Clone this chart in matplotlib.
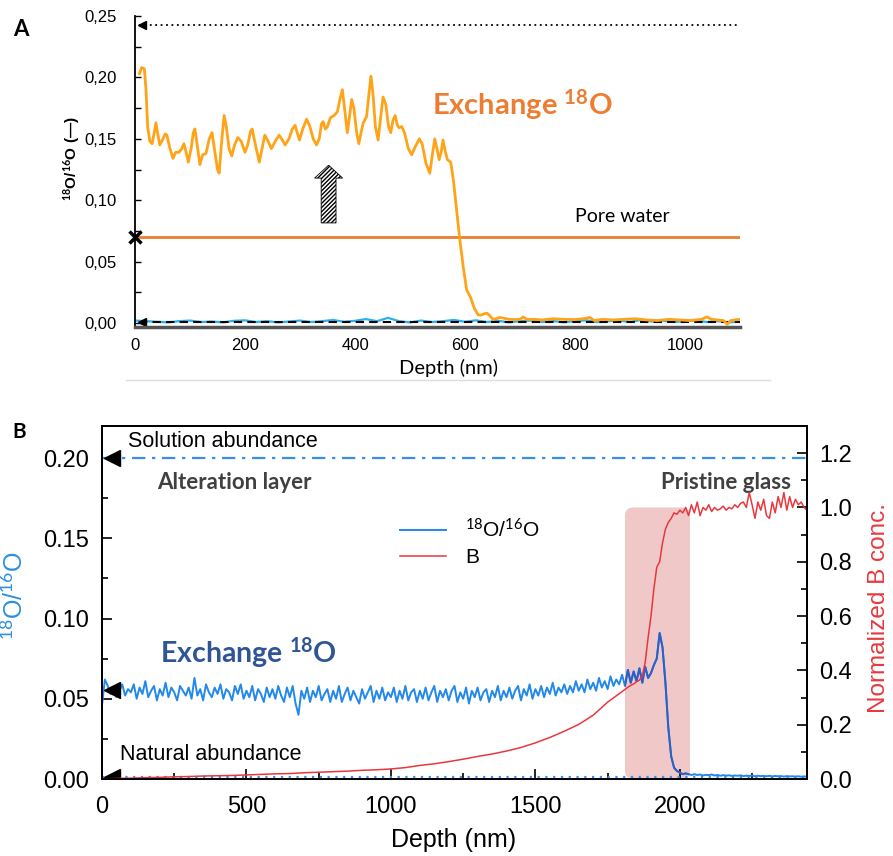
import numpy as np
import matplotlib.pyplot as plt
from matplotlib.patches import FancyArrow, FancyBboxPatch
from matplotlib.lines import Line2D
from matplotlib.ticker import MultipleLocator, FuncFormatter

plt.rcParams['mathtext.fontset'] = 'custom'
plt.rcParams['mathtext.rm'] = 'Lato'
plt.rcParams['mathtext.bf'] = 'Lato:bold'
plt.rcParams['mathtext.it'] = 'Lato:italic'

# ---------------- panel A data ----------------
orange_depth = [8, 12, 17, 20, 23, 27, 31, 35, 38, 41, 45, 50, 55, 58, 63, 69, 74, 80, 85, 89,
                93, 97, 102, 106, 109, 113, 118, 123, 129, 135, 140, 145, 150, 153, 157, 162,
                166, 171, 176, 181, 187, 193, 200, 205, 210, 213, 219, 226, 231, 236, 242, 248,
                255, 262, 268, 273, 280, 286, 291, 295, 299, 305, 312, 318, 324, 330, 335, 339,
                342, 346, 350, 355, 362, 368, 373, 377, 381, 386, 390, 394, 398, 403, 407, 411,
                415, 421, 425, 429, 433, 437, 442, 446, 451, 456, 461, 465, 469, 473, 477, 480,
                485, 490, 497, 503, 510, 517, 522, 529, 536, 540, 545, 549, 553, 557, 560, 564,
                568, 574, 579, 584, 590, 597, 603, 610, 617, 624, 629, 635, 640, 645, 651, 657,
                663, 670, 680, 690, 700, 706, 712, 725, 740, 760, 780, 800, 815, 827, 835, 850,
                870, 890, 910, 930, 950, 970, 990, 1010, 1030, 1040, 1048, 1060, 1070, 1077,
                1083, 1090, 1100]
orange_ratio = [0.203, 0.208, 0.207, 0.190, 0.160, 0.148, 0.146, 0.155, 0.163, 0.155, 0.145,
                0.149, 0.154, 0.153, 0.143, 0.134, 0.139, 0.139, 0.142, 0.146, 0.139, 0.131,
                0.142, 0.155, 0.158, 0.145, 0.129, 0.137, 0.138, 0.150, 0.155, 0.140, 0.125,
                0.122, 0.145, 0.169, 0.160, 0.142, 0.136, 0.145, 0.151, 0.148, 0.139, 0.145,
                0.156, 0.158, 0.145, 0.131, 0.142, 0.153, 0.148, 0.142, 0.148, 0.153, 0.149,
                0.145, 0.150, 0.158, 0.161, 0.155, 0.149, 0.158, 0.166, 0.160, 0.150, 0.145,
                0.150, 0.162, 0.164, 0.158, 0.160, 0.167, 0.169, 0.172, 0.183, 0.190, 0.175,
                0.155, 0.168, 0.182, 0.175, 0.155, 0.146, 0.155, 0.163, 0.168, 0.185, 0.201,
                0.185, 0.160, 0.149, 0.165, 0.184, 0.178, 0.160, 0.155, 0.165, 0.169, 0.161,
                0.159, 0.160, 0.155, 0.142, 0.137, 0.144, 0.150, 0.146, 0.130, 0.122, 0.135,
                0.150, 0.142, 0.133, 0.140, 0.149, 0.140, 0.133, 0.131, 0.116, 0.095, 0.070,
                0.045, 0.027, 0.021, 0.012, 0.0065, 0.0065, 0.0075, 0.008, 0.006, 0.003,
                0.0035, 0.0045, 0.004, 0.003, 0.0028, 0.003, 0.005, 0.003, 0.003, 0.0025,
                0.0035, 0.003, 0.0028, 0.0035, 0.0045, 0.002, 0.003, 0.0025, 0.003, 0.0035,
                0.0025, 0.002, 0.003, 0.0025, 0.002, 0.003, 0.005, 0.003, 0.0025, 0.002,
                -0.001, 0.002, 0.0025, 0.003]

ref_depth_a = np.arange(0, 1101, 20)
ref_ratio_a = [0.0020, 0.0015, 0.0010, 0.0005, 0.0015, 0.0020, 0.0008, 0.0012, 0.0005, 0.0018,
               0.0022, 0.0008, 0.0015, 0.0005, 0.0012, 0.0020, 0.0008, 0.0015, 0.0025, 0.0010,
               0.0018, 0.0032, 0.0015, 0.0042, 0.0015, 0.0005, 0.0020, 0.0008, 0.0015, 0.0025,
               0.0010, 0.0022, 0.0008, 0.0018, 0.0005, 0.0015, 0.0020, 0.0008, 0.0016, 0.0006,
               0.0015, 0.0022, 0.0008, 0.0014, 0.0020, 0.0008, 0.0025, 0.0012, 0.0018, 0.0008,
               0.0015, 0.0020, 0.0008, 0.0015, 0.0005, 0.0012]

solution_a = 0.243
pore_water = 0.0697
natural_a = 0.0012
xticks_a = [0, 200, 400, 600, 800, 1000]

# ---------------- panel B data ----------------
depth_b = np.arange(0, 2441, 10)
ratio_b = [0.046, 0.062, 0.058, 0.053, 0.057, 0.051, 0.055, 0.059, 0.052, 0.056,
           0.054, 0.059, 0.050, 0.057, 0.053, 0.061, 0.051, 0.055, 0.058, 0.049,
           0.056, 0.052, 0.060, 0.051, 0.057, 0.054, 0.049, 0.058, 0.055, 0.052,
           0.057, 0.050, 0.063, 0.052, 0.056, 0.049, 0.059, 0.054, 0.051, 0.057,
           0.053, 0.059, 0.050, 0.056, 0.054, 0.049, 0.058, 0.053, 0.059, 0.050,
           0.055, 0.051, 0.058, 0.049, 0.056, 0.053, 0.048, 0.057, 0.051, 0.056,
           0.050, 0.058, 0.052, 0.048, 0.057, 0.051, 0.058, 0.047, 0.040, 0.055,
           0.050, 0.057, 0.048, 0.055, 0.051, 0.058, 0.049, 0.053, 0.056, 0.048,
           0.055, 0.050, 0.058, 0.048, 0.053, 0.057, 0.049, 0.055, 0.051, 0.047,
           0.056, 0.050, 0.054, 0.058, 0.048, 0.055, 0.050, 0.057, 0.049, 0.054,
           0.051, 0.057, 0.048, 0.055, 0.050, 0.058, 0.049, 0.054, 0.056, 0.048,
           0.055, 0.050, 0.057, 0.049, 0.054, 0.058, 0.048, 0.055, 0.051, 0.056,
           0.049, 0.055, 0.058, 0.048, 0.054, 0.050, 0.057, 0.047, 0.055, 0.051,
           0.057, 0.049, 0.054, 0.056, 0.048, 0.055, 0.051, 0.058, 0.049, 0.055,
           0.051, 0.057, 0.050, 0.055, 0.058, 0.049, 0.056, 0.052, 0.059, 0.050,
           0.056, 0.052, 0.058, 0.051, 0.057, 0.053, 0.060, 0.052, 0.057, 0.054,
           0.059, 0.053, 0.058, 0.054, 0.061, 0.055, 0.059, 0.054, 0.062, 0.056,
           0.060, 0.055, 0.063, 0.057, 0.061, 0.056, 0.064, 0.058, 0.062, 0.059,
           0.065, 0.058, 0.068, 0.060, 0.067, 0.061, 0.069, 0.060, 0.070, 0.063,
           0.066, 0.071, 0.075, 0.091, 0.082, 0.060, 0.032, 0.014, 0.007, 0.005,
           0.0040, 0.0030, 0.0035, 0.0030, 0.0025, 0.0030, 0.0025, 0.0028, 0.0022, 0.0026,
           0.0024, 0.0028, 0.0022, 0.0025, 0.0020, 0.0024, 0.0021, 0.0023, 0.0019, 0.0022,
           0.0020, 0.0023, 0.0018, 0.0021, 0.0019, 0.0022, 0.0017, 0.0020, 0.0018, 0.0019,
           0.0017, 0.0020, 0.0016, 0.0019, 0.0017, 0.0018, 0.0015, 0.0018, 0.0016, 0.0017,
           0.0015, 0.0017, 0.0014, 0.0016, 0.0015]

boron_depth = [0, 50, 100, 150, 200, 250, 300, 350, 400, 450, 500, 550, 600, 650, 700, 750,
               800, 850, 900, 950, 1000, 1050, 1100, 1150, 1200, 1250, 1300, 1350, 1400, 1450,
               1500, 1550, 1600, 1650, 1700, 1750, 1800, 1810, 1820, 1830, 1840, 1850, 1860,
               1870, 1880, 1890, 1900, 1910, 1920, 1930, 1940, 1950, 1960, 1970, 1980, 1990,
               2000, 2010, 2020, 2030, 2040, 2050, 2060, 2070, 2080, 2090, 2100, 2110, 2120,
               2130, 2140, 2150, 2160, 2170, 2180, 2190, 2200, 2210, 2220, 2230, 2240, 2250,
               2260, 2270, 2280, 2290, 2300, 2310, 2320, 2330, 2340, 2350, 2360, 2370, 2380,
               2390, 2400, 2410, 2420, 2430, 2440]
boron_conc = [0.0, 0.002, 0.003, 0.005, 0.006, 0.008, 0.009, 0.011, 0.012, 0.013, 0.015,
              0.017, 0.019, 0.020, 0.023, 0.025, 0.027, 0.029, 0.032, 0.034, 0.037, 0.042,
              0.050, 0.056, 0.064, 0.073, 0.083, 0.092, 0.103, 0.116, 0.133, 0.153, 0.176,
              0.201, 0.235, 0.283, 0.322, 0.330, 0.338, 0.345, 0.350, 0.358, 0.364, 0.380,
              0.430, 0.520, 0.600, 0.700, 0.780, 0.800, 0.870, 0.920, 0.945, 0.960, 0.980,
              0.975, 0.990, 0.980, 1.000, 0.970, 1.010, 0.980, 1.020, 0.970, 1.000, 0.990,
              1.010, 0.985, 1.000, 0.990, 0.995, 1.005, 0.990, 1.000, 0.995, 1.010, 1.000,
              1.015, 1.020, 1.000, 1.055, 1.010, 0.960, 1.020, 0.990, 1.030, 0.970, 0.960,
              1.020, 0.980, 1.040, 1.000, 1.055, 0.990, 1.040, 1.000, 1.030, 1.010, 1.020,
              1.000, 0.990]

solution_b = 0.20
exchange_b = 0.0555
natural_b = 0.0013
pristine_start, pristine_end = 1810, 2035

W, H = 893, 856
fig = plt.figure(figsize=(W / 100, H / 100), dpi=100)


def px_box(left, top, right, bottom):
    return [left / W, 1 - bottom / H, (right - left) / W, (bottom - top) / H]


# ======================= Panel A =======================
axA = fig.add_axes(px_box(135, 16, 740, 326.7))
axA.set_xlim(0, 1100)
axA.set_ylim(-0.003, 0.25)
for s in ['top', 'right']:
    axA.spines[s].set_visible(False)
axA.spines['left'].set_linewidth(1.3)
axA.spines['bottom'].set_color('#555555')
axA.spines['bottom'].set_linewidth(2.5)

axA.plot([8, 1100], [solution_a, solution_a], color='black', ls=(0, (1, 2)), lw=1.3)
axA.plot([12], [solution_a], marker='<', color='black', ms=6, clip_on=False)
axA.plot([0, 1100], [pore_water, pore_water], color='#ED7D31', lw=2)
axA.plot(ref_depth_a, ref_ratio_a, color='#29B2EE', lw=1.6)
axA.plot([8, 1100], [natural_a, natural_a], color='black', ls=(0, (4, 2.5)), lw=1.5)
axA.plot([12], [natural_a], marker='<', color='black', ms=6)
axA.plot(orange_depth, orange_ratio, color='#FFA318', lw=2, solid_joinstyle='round')
axA.plot([0], [pore_water], marker='x', color='black', ms=8, mew=2.5, clip_on=False, zorder=5)

axA.add_patch(FancyArrow(352, 0.0815, 0, 0.047, width=27, head_width=51,
                         head_length=0.0105, length_includes_head=True,
                         facecolor='white', edgecolor='black', hatch='////////', lw=0.6))

axA.text(540, 0.1775, r'Exchange $^{\mathbf{18}}$O', color='#ED7D31', fontsize=21,
         fontweight='bold', family='Lato', va='center')
axA.text(800, 0.0865, 'Pore water', fontsize=14, family='Lato', va='center')

axA.yaxis.set_major_locator(MultipleLocator(0.05))
axA.yaxis.set_minor_locator(MultipleLocator(0.025))
axA.yaxis.set_major_formatter(FuncFormatter(lambda v, p: f'{v:.2f}'.replace('.', ',')))
axA.tick_params(axis='y', which='both', direction='in', length=4, width=1, pad=13,
                labelsize=12)
axA.set_xticks(xticks_a)
axA.tick_params(axis='x', length=0, pad=8, labelsize=12)
for lab in axA.get_xticklabels() + axA.get_yticklabels():
    lab.set_family('Liberation Sans')
axA.set_ylabel(r'$^{\mathbf{18}}$O/$^{\mathbf{16}}$O (—)', fontsize=11, fontweight='bold',
               family='Liberation Sans')
axA.yaxis.set_label_coords(-0.088, 0.54)
axA.set_xlabel('Depth (nm)', fontsize=14.5, family='Lato')
axA.xaxis.set_label_coords(0.519, -0.105)

fig.add_artist(Line2D([126 / W, 770 / W], [1 - 380 / H, 1 - 380 / H], color='#DDDDDD', lw=1))
fig.text(13 / W, 1 - 30 / H, 'A', fontsize=16, fontweight='bold', family='Lato', va='center')

# ======================= Panel B =======================
blue = '#2288EA'
red = '#E8383D'
ax = fig.add_axes(px_box(102, 426, 807, 779))
ax2 = ax.twinx()
ax.set_xlim(0, 2440)
ax.set_ylim(0, 0.22)
ax2.set_ylim(0, 1.3)

rect = FancyBboxPatch((pristine_start, 0), pristine_end - pristine_start, 1.0,
                      boxstyle='round,pad=0,rounding_size=30', mutation_aspect=0.001,
                      transform=ax2.transData, facecolor='#F0C8C8', edgecolor='none', zorder=0)
ax.add_patch(rect)

ax.plot([0, 2440], [solution_b, solution_b], color='#3A8EE6', lw=1.6, ls=(0, (6, 3, 1.5, 3)))
ax.plot([0, 2440], [natural_b, natural_b], color='#3A8EE6', lw=1.6, ls=(0, (1, 2.5)))
l_ratio, = ax.plot(depth_b, ratio_b, color=blue, lw=1.4, label=r'$^{18}$O/$^{16}$O')
dark, = ax.plot(depth_b, ratio_b, color='#2F5EC4', lw=1.4)
dark.set_clip_path(rect)
ax.plot([35, 35, 35], [solution_b, exchange_b, natural_b], ls='none', marker='<',
        color='black', ms=11, zorder=6)
l_b, = ax2.plot(boron_depth, boron_conc, color=red, lw=1.1, label='B')

ax.text(90, 0.2105, 'Solution abundance', fontsize=15.5, family='Liberation Sans', va='center')
ax.text(62, 0.0150, 'Natural abundance', fontsize=15.5, family='Liberation Sans', va='center')
ax.text(190, 0.185, 'Alteration layer', fontsize=16, fontweight='bold', color='#404040',
        family='Lato', va='center')
ax.text(1933, 0.185, 'Pristine glass', fontsize=16, fontweight='bold', color='#404040',
        family='Lato', va='center')
ax.text(200, 0.0790, r'Exchange $^{\mathbf{18}}$O', fontsize=20.5, fontweight='bold',
        color='#2F5597', family='Lato', va='center')

ax2.legend(handles=[l_ratio, l_b], loc='upper left', bbox_to_anchor=(0.423, 0.738),
           frameon=False, prop={'family': 'Liberation Sans', 'size': 15},
           handlelength=2.2, handletextpad=0.9, labelspacing=0.3, borderpad=0,
           borderaxespad=0)

ax.xaxis.set_major_locator(MultipleLocator(500))
ax.xaxis.set_minor_locator(MultipleLocator(250))
ax.yaxis.set_major_locator(MultipleLocator(0.05))
ax.yaxis.set_minor_locator(MultipleLocator(0.025))
ax.yaxis.set_major_formatter(FuncFormatter(lambda v, p: f'{v:.2f}'))
ax2.yaxis.set_major_locator(MultipleLocator(0.2))
ax2.yaxis.set_minor_locator(MultipleLocator(0.1))
ax2.yaxis.set_major_formatter(FuncFormatter(lambda v, p: f'{v:.1f}'))

ax.tick_params(axis='both', which='major', direction='in', length=7, width=1.2, labelsize=17)
ax.tick_params(axis='both', which='minor', direction='in', length=4, width=1.2)
ax.tick_params(axis='y', pad=9)
ax.tick_params(axis='x', pad=12)
ax2.tick_params(axis='y', which='major', direction='in', length=7, width=1.2, labelsize=17, pad=9)
ax2.tick_params(axis='y', which='minor', direction='in', length=4, width=1.2)
for lab in ax.get_xticklabels() + ax.get_yticklabels() + ax2.get_yticklabels():
    lab.set_family('Liberation Sans')
for a in (ax, ax2):
    for s in a.spines.values():
        s.set_linewidth(1.3)

ax.set_xlabel('Depth (nm)', fontsize=18, family='Liberation Sans')
ax.xaxis.set_label_coords(0.498, -0.14)
ax.set_ylabel(r'$^{18}$O/$^{16}$O', fontsize=18, color='#2A8FE0', family='Liberation Sans')
ax.yaxis.set_label_coords(-0.105, 0.52)
ax2.set_ylabel('Normalized B conc.', fontsize=17.5, color=red, family='Liberation Sans')
ax2.yaxis.set_label_coords(1.086, 0.485)

fig.text(12 / W, 1 - 432 / H, 'B', fontsize=15, fontweight='bold', family='Lato', va='center')

fig.savefig('out.png', dpi=100)
